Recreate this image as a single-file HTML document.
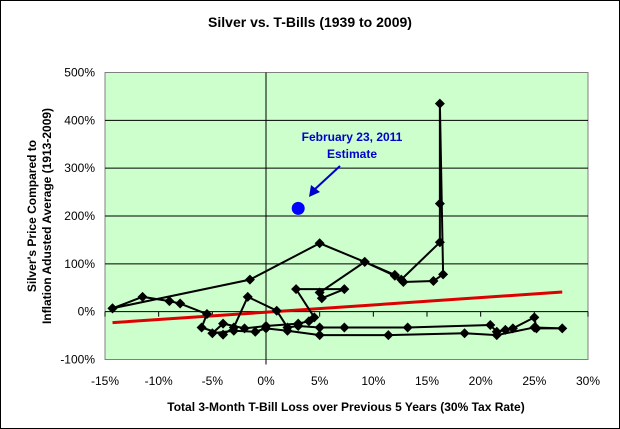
<!DOCTYPE html>
<html><head><meta charset="utf-8"><style>
body{margin:0;background:#fff;}
svg{display:block;font-family:"Liberation Sans",Arial,sans-serif;}
</style></head><body>
<svg id="chart" width="620" height="429" viewBox="0 0 620 429" xmlns="http://www.w3.org/2000/svg">
<rect x="0.5" y="0.5" width="619" height="428" fill="#fff" stroke="#000"/>
<text x="310" y="27" text-anchor="middle" font-size="14" font-weight="bold">Silver vs. T-Bills (1939 to 2009)</text>
<rect x="105" y="72.5" width="483" height="287" fill="#ccffcc" stroke="#808080"/>
<g id="grid"></g>
<g id="axes"></g>
<g id="series"></g>
<text transform="translate(36,216) rotate(-90)" text-anchor="middle" font-size="12" font-weight="bold"><tspan x="0" dy="0">Silver's Price Compared to</tspan><tspan x="0" dy="15">Inflation Adusted Average (1913-2009)</tspan></text>
<text x="346" y="411" text-anchor="middle" font-size="12" font-weight="bold">Total 3-Month T-Bill Loss over Previous 5 Years (30% Tax Rate)</text>
<g>
<text x="352" y="141" text-anchor="middle" font-size="12" font-weight="bold" fill="#0000cc">February 23, 2011</text>
<text x="352" y="158" text-anchor="middle" font-size="12" font-weight="bold" fill="#0000cc">Estimate</text>
<line x1="340" y1="166" x2="314" y2="190" stroke="#0000cc" stroke-width="2"/>
<polygon points="309,197 311,185 320,192" fill="#0000cc"/>
</g>
</svg>
<script>
const xTicks=[-15,-10,-5,0,5,10,15,20,25,30];
const yTicks=[-100,0,100,200,300,400,500];
const seriesX=[-14.3,-11.5,-9,-8,-5.5,-6,-4,-3,-1.7,1,2,3,5,7.3,13.2,20.9,21.5,22.3,23,25,25.2,27.6,25,21.5,18.5,11.4,5,2,0,-1,-3,-5,-4,-2,0,3,4,4.5,2.8,7.3,5.2,5,9.2,12,12.6,16.2,16.2,16.2,16.5,15.6,12.8,12,9.2,5,-1.5,-14.3];
const seriesY=[7,31,22,17,-5,-33,-48,-33,31,2,-33,-30,-33,-33,-33,-28,-42,-38,-35,-12,-35,-35,-33,-49,-45,-49,-49,-40,-35,-42,-40,-45,-25,-35,-30,-25,-20,-12,47,47,28,40,104,75,67,145,226,435,78,64,62,77,104,143,67,7];
const trendX=[-14.3,27.6];
const trendY=[-23,41];
const estimateX=[3];
const estimateY=[216];
const NS="http://www.w3.org/2000/svg";
const x0=105,x1=588,y0=359.5,y1=72.5;
function sx(v){return x0+(v-(-15))/45*(x1-x0);}
function sy(v){return y0-(v-(-100))/600*(y0-y1);}
function mk(tag,attrs,parent){const e=document.createElementNS(NS,tag);for(const k in attrs)e.setAttribute(k,attrs[k]);parent.appendChild(e);return e;}
const grid=document.getElementById('grid'),axes=document.getElementById('axes'),ser=document.getElementById('series');
yTicks.forEach(t=>{
  if(t!==-100&&t!==500&&t!==0){const g=mk('line',{x1:x0,x2:x1,y1:sy(t),y2:sy(t),stroke:'#000','stroke-width':1},grid);
  
  }
  const l=mk('text',{x:95,y:sy(t)+4,'text-anchor':'end','font-size':12},axes);l.textContent=t+'%';
  
  
});
const xa=mk('line',{x1:x0,x2:x1,y1:sy(0),y2:sy(0),stroke:'#000'},axes);


const ya=mk('line',{x1:sx(0),x2:sx(0),y1:y1,y2:y0+5,stroke:'#000'},axes);


xTicks.forEach(t=>{
  const tk=mk('line',{x1:sx(t),x2:sx(t),y1:sy(0),y2:sy(0)+5,stroke:'#000'},axes);
  
  
  const l=mk('text',{x:sx(t),y:385,'text-anchor':'middle','font-size':12},axes);l.textContent=t+'%';
  
  
});
const tr=mk('line',{x1:sx(trendX[0]),y1:sy(trendY[0]),x2:sx(trendX[1]),y2:sy(trendY[1]),stroke:'#dd0000','stroke-width':3},ser);


const pts=seriesX.map((v,i)=>sx(v)+','+sy(seriesY[i])).join(' ');
const pl=mk('polyline',{points:pts,fill:'none',stroke:'#000','stroke-width':2},ser);


seriesX.forEach((v,i)=>{
  const cx=sx(v),cy=sy(seriesY[i]);
  const d=mk('polygon',{points:`${cx},${cy-5} ${cx+5},${cy} ${cx},${cy+5} ${cx-5},${cy}`,fill:'#000'},ser);
  
  
});
estimateX.forEach((v,i)=>{
  const c=mk('circle',{cx:sx(v),cy:sy(estimateY[i]),r:6.5,fill:'#0000ff'},ser);
  
  
});
</script>
</body></html>
